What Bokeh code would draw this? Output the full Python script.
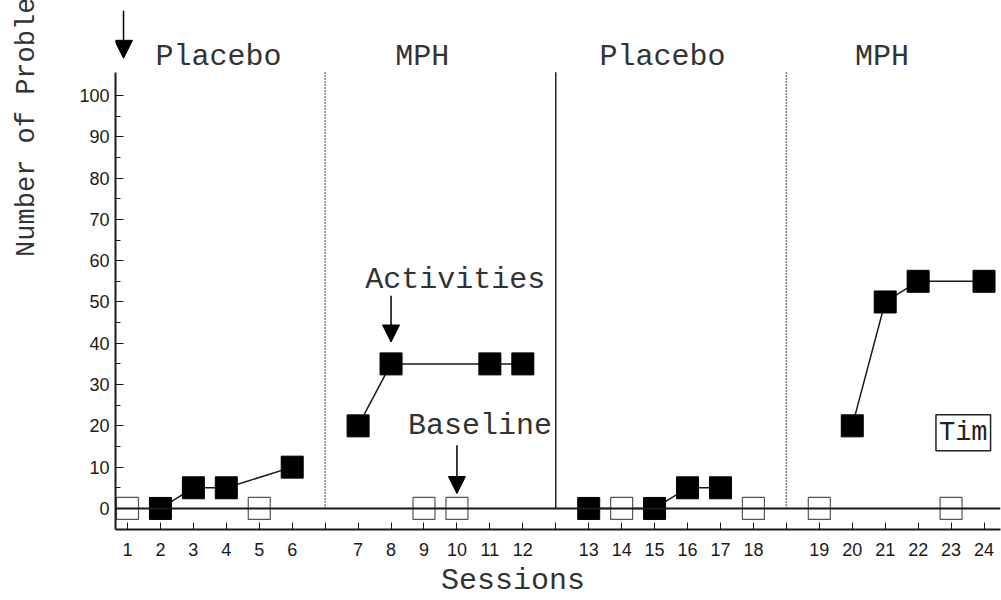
import math
from bokeh.plotting import figure
from bokeh.models import (Range1d, FixedTicker, Label, Arrow, NormalHead, Span)
from bokeh.embed import file_html
from bokeh.resources import INLINE

# ---------------- data ----------------
phase_names = ["Placebo", "MPH", "Placebo", "MPH"]
activity_sessions = [2, 3, 4, 6, 7, 8, 11, 12, 13, 15, 16, 17, 20, 21, 22, 24]
activity_values = [0, 5, 5, 10, 20, 35, 35, 35, 0, 0, 5, 5, 20, 50, 55, 55]
baseline_sessions = [1, 5, 9, 10, 14, 18, 19, 23]
baseline_values = [0, 0, 0, 0, 0, 0, 0, 0]
session_labels = [str(s) for s in range(1, 25)]
y_ticks = list(range(0, 101, 10))
x_title = "Sessions"
y_title = "Number of Problems"

SESSIONS_PER_PHASE = 6


def pos(s):
    # each phase is followed by an empty slot where the phase-change line sits
    return s + (s - 1) // SESSIONS_PER_PHASE


def phase_of(s):
    return (s - 1) // SESSIONS_PER_PHASE


phase_line_pos = [pos(SESSIONS_PER_PHASE * (k + 1)) + 1 for k in range(len(phase_names) - 1)]

MONO = "Liberation Mono"
SANS = "Liberation Sans"
INK = "#1a1a1a"
TXT = "#333333"
NBSP = "\u00a0"
Y_LO, Y_TOP_AXIS, Y_HI = -5.1, 105.6, 123.0

p = figure(width=1001, height=600, output_backend="svg", toolbar_location=None,
           title=None,
           x_range=Range1d(0.636, 27.5), y_range=Range1d(Y_LO, Y_HI),
           min_border_left=115, min_border_right=1, min_border_top=0,
           min_border_bottom=71)
p.outline_line_color = None
p.xgrid.visible = False
p.ygrid.visible = False
p.background_fill_color = "white"

# ---- x axis ----
all_pos = list(range(1, pos(24) + 1))
p.xaxis.ticker = FixedTicker(ticks=all_pos, minor_ticks=[])
overrides = {}
for s in range(1, 25):
    overrides[pos(s)] = session_labels[s - 1]
for lp in phase_line_pos:
    overrides[lp] = ""
p.xaxis.major_label_overrides = overrides
p.xaxis.major_tick_in = 7
p.xaxis.major_tick_out = 0
p.xaxis.minor_tick_in = 0
p.xaxis.minor_tick_out = 0
p.xaxis.axis_line_width = 2
p.xaxis.axis_line_color = INK
p.xaxis.major_tick_line_color = INK
p.xaxis.major_label_text_font = SANS
p.xaxis.major_label_text_font_size = "18px"
p.xaxis.major_label_text_color = INK
p.xaxis.major_label_standoff = 13
# trailing no-break spaces shift the centred title left, as in the original
p.xaxis.axis_label = x_title + NBSP * 5
p.xaxis.axis_label_text_font = MONO
p.xaxis.axis_label_text_font_style = "normal"
p.xaxis.axis_label_text_font_size = "30px"
p.xaxis.axis_label_text_color = TXT
p.xaxis.axis_label_text_line_height = 1.0
p.xaxis.axis_label_standoff = 5

# ---- y axis ----
p.yaxis.ticker = FixedTicker(ticks=y_ticks, minor_ticks=[v + 5 for v in y_ticks[:-1]])
p.yaxis.bounds = (Y_LO, Y_TOP_AXIS)
p.yaxis.major_tick_in = 8
p.yaxis.major_tick_out = 0
p.yaxis.minor_tick_in = 5
p.yaxis.minor_tick_out = 0
p.yaxis.axis_line_width = 2
p.yaxis.axis_line_color = INK
p.yaxis.major_tick_line_color = INK
p.yaxis.minor_tick_line_color = INK
p.yaxis.major_label_text_font = SANS
p.yaxis.major_label_text_font_size = "18px"
p.yaxis.major_label_text_color = INK
p.yaxis.major_label_standoff = 6
# leading no-break spaces push the title up; its top runs off the page as in the original
p.yaxis.axis_label = NBSP * 19 + y_title
p.yaxis.axis_label_text_font = MONO
p.yaxis.axis_label_text_font_style = "normal"
p.yaxis.axis_label_text_font_size = "27px"
p.yaxis.axis_label_text_color = TXT
p.yaxis.axis_label_text_line_height = 1.0
p.yaxis.axis_label_standoff = 34

# ---- zero line ----
p.add_layout(Span(location=0, dimension="width", line_color=INK, line_width=2))

# ---- phase change lines ----
p.segment(x0=[phase_line_pos[0]], y0=[0], x1=[phase_line_pos[0]], y1=[Y_TOP_AXIS],
          line_color="black", line_width=1.5, line_dash="1 2")
p.segment(x0=[phase_line_pos[1]], y0=[0], x1=[phase_line_pos[1]], y1=[Y_TOP_AXIS],
          line_color="#222222", line_width=1.5)
p.segment(x0=[phase_line_pos[2]], y0=[0], x1=[phase_line_pos[2]], y1=[Y_TOP_AXIS],
          line_color="black", line_width=1.5, line_dash="1 2")

# ---- connecting lines per phase ----
xs, ys = [], []
for k in range(len(phase_names)):
    xs.append([pos(s) for s in activity_sessions if phase_of(s) == k])
    ys.append([v for s, v in zip(activity_sessions, activity_values) if phase_of(s) == k])
p.multi_line(xs=xs, ys=ys, line_color=INK, line_width=1.5)

# ---- markers ----
p.scatter(x=[pos(s) for s in baseline_sessions], y=baseline_values, marker="square",
          size=22, fill_color="white", line_color="#555555", line_width=1.2)
p.scatter(x=[pos(s) for s in activity_sessions], y=activity_values, marker="square",
          size=22, fill_color="black", line_color="black", line_width=1)

# ---- phase labels ----
phase_label_x = [3.76, 9.95, 17.24, 23.9]
for name, lx in zip(phase_names, phase_label_x):
    p.add_layout(Label(x=lx, y=109.3, text=name, text_font=MONO, text_font_size="30px",
                       text_color=TXT, text_align="center", text_baseline="middle"))

# ---- annotations ----
p.add_layout(Label(x=10.95, y=55.2, text="Activities", text_font=MONO,
                   text_font_size="30px", text_color=TXT,
                   text_align="center", text_baseline="middle"))
p.add_layout(Arrow(x_start=pos(8), y_start=51.5, x_end=pos(8), y_end=40.3,
                   line_color="black", line_width=1.5,
                   end=NormalHead(size=17, fill_color="black", line_color="black")))

p.add_layout(Label(x=11.7, y=19.9, text="Baseline", text_font=MONO,
                   text_font_size="30px", text_color=TXT,
                   text_align="center", text_baseline="middle"))
p.add_layout(Arrow(x_start=pos(10), y_start=15.3, x_end=pos(10), y_end=3.6,
                   line_color="black", line_width=1.5,
                   end=NormalHead(size=17, fill_color="black", line_color="black")))

# arrow marking the start of the study
p.add_layout(Arrow(x_start=0.88, y_start=120.5, x_end=0.88, y_end=109.0,
                   line_color="black", line_width=1.5,
                   end=NormalHead(size=18, fill_color="black", line_color="black")))

# participant box
p.add_layout(Label(x=26.37, y=18.3, text="Tim", text_font=MONO, text_font_size="27px",
                   text_color="#222222", text_align="center", text_baseline="middle",
                   border_line_color="#222222", border_line_width=1.5,
                   background_fill_color="white", padding=3))

open("out.html", "w").write(file_html(p, INLINE))
